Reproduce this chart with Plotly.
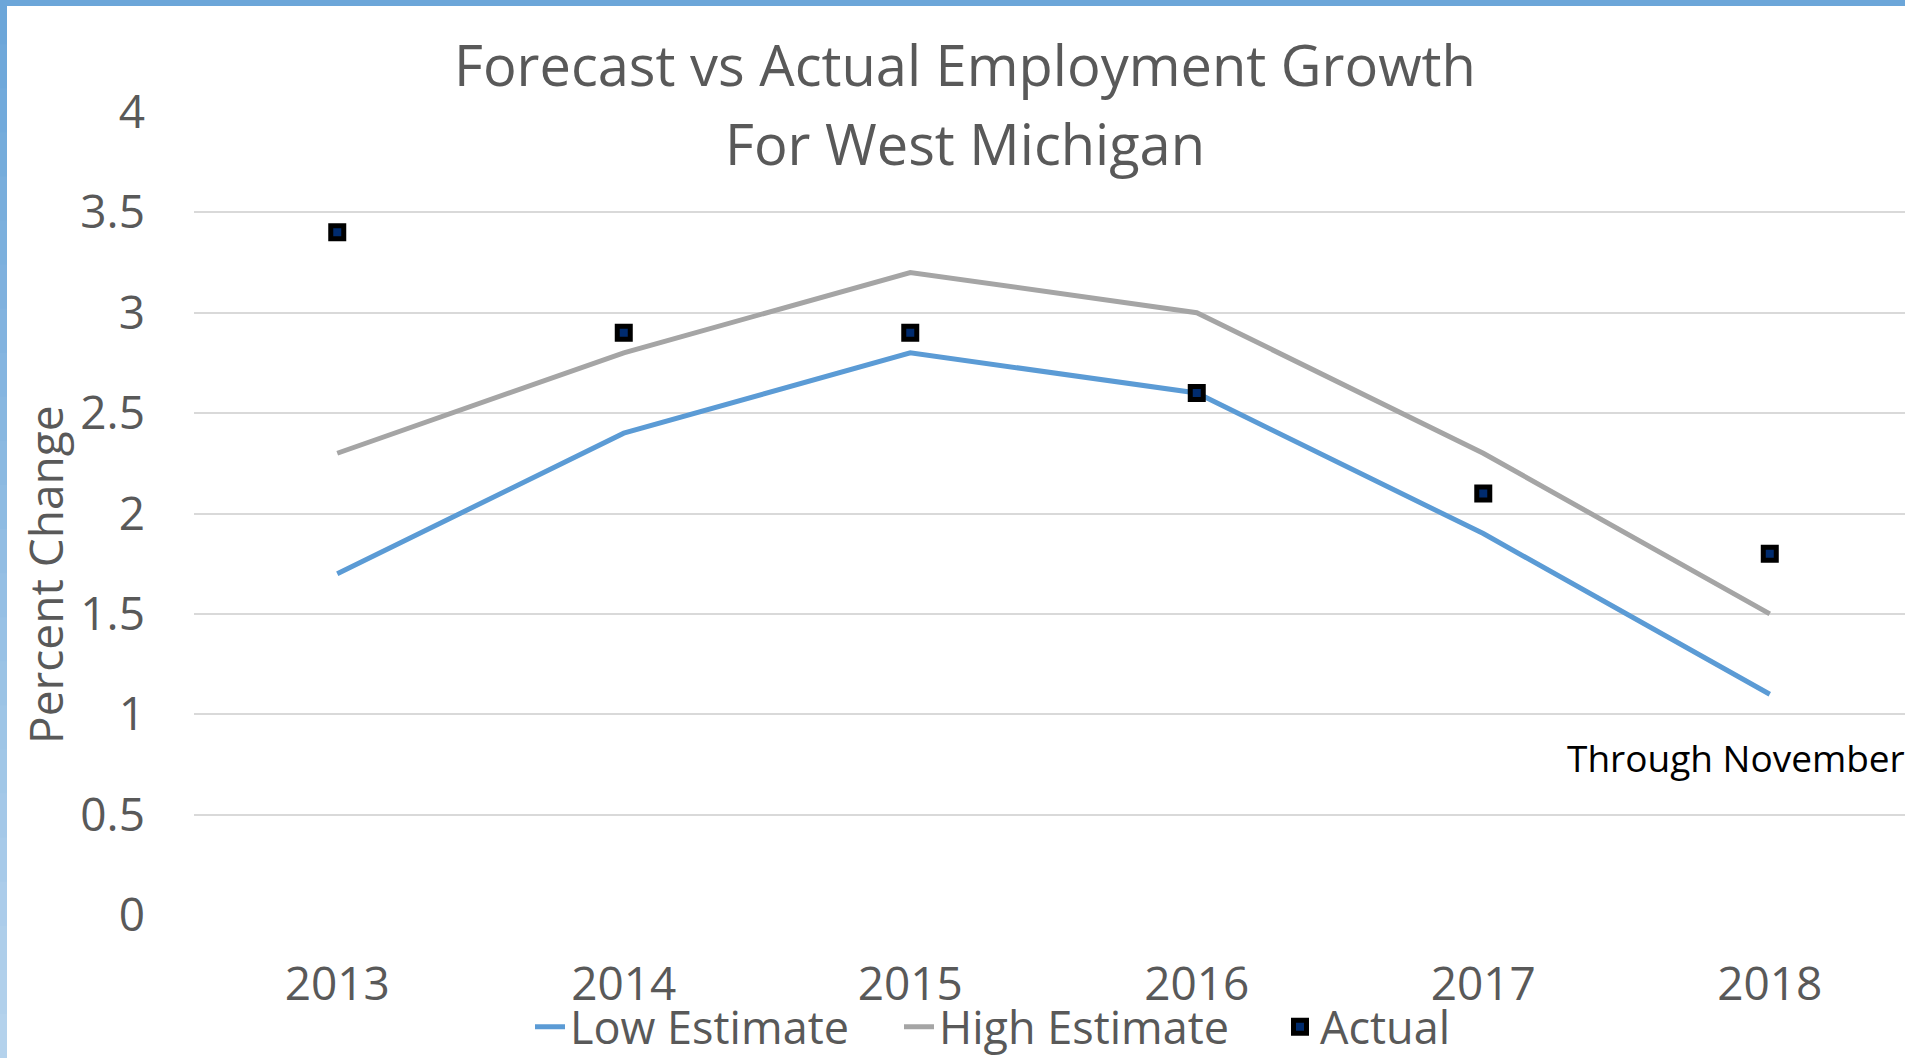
import plotly.graph_objects as go

years = ["2013", "2014", "2015", "2016", "2017", "2018"]
low_estimate = [1.7, 2.4, 2.8, 2.6, 1.9, 1.1]
high_estimate = [2.3, 2.8, 3.2, 3.0, 2.3, 1.5]
actual = [3.4, 2.9, 2.9, 2.6, 2.1, 1.8]

W, H = 1905, 1058
L, R, T, B = 194, 0, 111, 142
PW, PH = W - L - R, H - T - B

def px(x):
    return (x - L) / PW

def py(y):
    return (H - B - y) / PH

FONT = "Open Sans"
TXT = "#595959"

fig = go.Figure()
fig.add_trace(go.Scatter(x=years, y=low_estimate, mode="lines", name="Low Estimate",
                         line=dict(color="#5B9BD5", width=5), legend="legend"))
fig.add_trace(go.Scatter(x=years, y=high_estimate, mode="lines", name="High Estimate",
                         line=dict(color="#A5A5A5", width=5), legend="legend2"))
fig.add_trace(go.Scatter(x=years, y=actual, mode="markers", name="Actual",
                         marker=dict(symbol="square", size=13, color="#002B6E",
                                     line=dict(color="black", width=5)),
                         legend="legend3"))

shapes = []
# top border
shapes.append(dict(type="rect", xref="paper", yref="paper", x0=px(0), x1=px(W),
                   y0=py(0), y1=py(6), fillcolor="#6CA6D9", line=dict(width=0), layer="above"))
# left border gradient
n = 24
c0 = (108, 166, 217)
c1 = (180, 210, 236)
for i in range(n):
    t = i / (n - 1)
    c = tuple(int(round(a + (b - a) * t)) for a, b in zip(c0, c1))
    shapes.append(dict(type="rect", xref="paper", yref="paper", x0=px(0), x1=px(7),
                       y0=py(H * (i + 1) / n + 1), y1=py(H * i / n),
                       fillcolor="rgb(%d,%d,%d)" % c, line=dict(width=0), layer="above"))

def leg(text_start):
    return dict(orientation="h", x=(text_start - 46) / W, xanchor="left",
                xref="container", yref="container", y=1 - 1027 / H,
                yanchor="middle", font=dict(family=FONT, size=45, color=TXT),
                bgcolor="rgba(0,0,0,0)", itemwidth=30)

fig.update_layout(
    width=W, height=H,
    margin=dict(l=L, r=R, t=T, b=B, pad=0, autoexpand=False),
    paper_bgcolor="white", plot_bgcolor="white",
    font=dict(family=FONT, size=46, color=TXT),
    showlegend=True,
    legend=leg(576), legend2=leg(945), legend3=leg(1326),
    shapes=shapes,
    annotations=[
        dict(text="Forecast vs Actual Employment Growth", xref="paper", yref="paper",
             x=px(965), y=py(64), xanchor="center", yanchor="middle", showarrow=False,
             font=dict(family=FONT, size=56, color=TXT)),
        dict(text="For West Michigan", xref="paper", yref="paper",
             x=px(965), y=py(143), xanchor="center", yanchor="middle", showarrow=False,
             font=dict(family=FONT, size=56, color=TXT)),
        dict(text="Through November", xref="paper", yref="paper", x=px(1565), y=py(757),
             xanchor="left", yanchor="middle", showarrow=False,
             font=dict(family=FONT, size=37, color="black")),
        dict(text="Percent Change", xref="paper", yref="paper", x=px(45), y=py(575),
             xanchor="center", yanchor="middle", textangle=-90, showarrow=False,
             font=dict(family=FONT, size=46, color=TXT)),
    ],
)
fig.update_xaxes(type="category", range=[-0.5, 5.472], showgrid=False, zeroline=False,
                 showline=False, ticks="", ticklabelstandoff=37, automargin=False,
                 tickfont=dict(family=FONT, size=46, color=TXT))
fig.update_yaxes(range=[-0.004, 4.004], tickvals=[0, 0.5, 1, 1.5, 2, 2.5, 3, 3.5, 4],
                 showgrid=True, gridcolor="#D9D9D9", gridwidth=2, automargin=False,
                 zeroline=False, showline=False, ticks="", ticklabelstandoff=48,
                 tickfont=dict(family=FONT, size=46, color=TXT))

fig.write_html("out.html", config={"displayModeBar": False},
               post_script="document.body.style.margin='0px';")
